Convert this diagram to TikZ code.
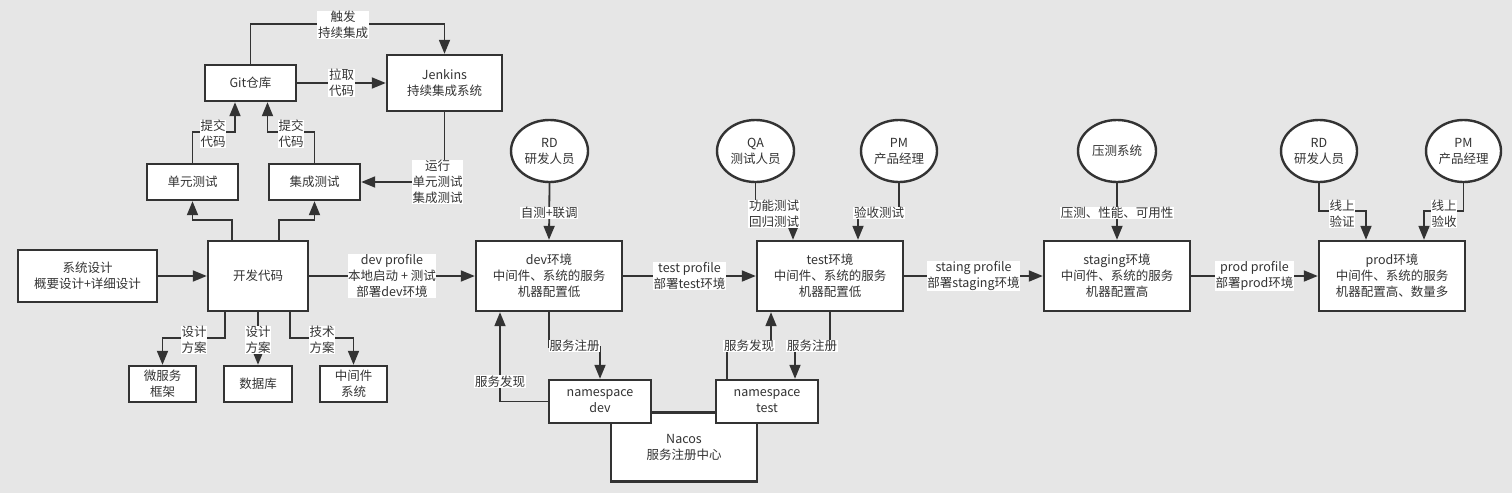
\documentclass[tikz,border=0pt]{standalone}
\usepackage{fontspec}
\setmainfont{Noto Sans CJK SC}
\usetikzlibrary{arrows.meta,shapes.geometric}
\definecolor{bg}{HTML}{E6E6E6}
\definecolor{ln}{HTML}{333333}
\begin{document}
\begin{tikzpicture}[x=1pt,y=-1pt,
  every node/.style={font=\fontsize{12.5}{16}\selectfont, text=ln},
  box/.style={draw=ln, fill=white, line width=2.4pt, align=center, inner sep=0pt},
  oval/.style={ellipse, draw=ln, fill=white, line width=2.4pt, align=center, inner sep=0pt, minimum height=62pt},
  lbl/.style={fill=white, inner sep=0.6pt, align=center},
  arr/.style={draw=ln, line width=1.8pt, -{Triangle[length=14pt,width=11pt]}},
  con/.style={draw=ln, line width=1.8pt}]
\fill[bg] (0,0) rectangle (1512,493);
\useasboundingbox (0,0) rectangle (1512,493);

% left part
\node[box, minimum width=91pt, minimum height=36pt] (git) at (250.5,83) {Git仓库};
\node[box, minimum width=115pt, minimum height=56pt] (jenkins) at (444.5,83) {Jenkins\\持续集成系统};
\node[box, minimum width=91pt, minimum height=36pt] (unit) at (192.5,182) {单元测试};
\node[box, minimum width=91pt, minimum height=36pt] (integ) at (314.5,182) {集成测试};
\node[box, minimum width=139pt, minimum height=52pt] (sys) at (87.5,276) {系统设计\\概要设计+详细设计};
\node[box, minimum width=100pt, minimum height=70pt] (dcode) at (258,276) {开发代码};
\node[box, minimum width=67pt, minimum height=36pt] (micro) at (162.5,384) {微服务\\框架};
\node[box, minimum width=68pt, minimum height=36pt] (db) at (258,384) {数据库};
\node[box, minimum width=67pt, minimum height=36pt] (mw) at (353.5,384) {中间件\\系统};

% environments
\node[oval, minimum width=77pt] (rd1) at (549.5,151) {RD\\研发人员};
\node[box, minimum width=146pt, minimum height=70pt] (devenv) at (549,276) {dev环境\\中间件、系统的服务\\机器配置低};
\node[oval, minimum width=77pt] (qa) at (755.5,151) {QA\\测试人员};
\node[oval, minimum width=76pt] (pm1) at (899,151) {PM\\产品经理};
\node[box, minimum width=146pt, minimum height=70pt] (testenv) at (830,276) {test环境\\中间件、系统的服务\\机器配置低};
\node[box, minimum width=146pt, minimum height=69pt] (nacos) at (684,447) {Nacos\\服务注册中心};
\node[box, minimum width=102pt, minimum height=43pt] (nsdev) at (600,401.5) {namespace\\dev};
\node[box, minimum width=102pt, minimum height=43pt] (nstest) at (767,401.5) {namespace\\test};
\node[oval, minimum width=78pt] (stress) at (1117,151) {压测系统};
\node[box, minimum width=146pt, minimum height=70pt] (staging) at (1117,276) {staging环境\\中间件、系统的服务\\机器配置高};
\node[oval, minimum width=76pt] (rd2) at (1319,151) {RD\\研发人员};
\node[oval, minimum width=75pt] (pm2) at (1463.5,151) {PM\\产品经理};
\node[box, minimum width=146pt, minimum height=70pt] (prod) at (1392,276) {prod环境\\中间件、系统的服务\\机器配置高、数量多};

% connectors left
\draw[arr] (git.north) |- (345,24) node[lbl] (l1) at (343,25) {触发\\持续集成} -| (jenkins.north);
\draw[arr] (git.east) -- node[lbl] (l2) {拉取\\代码} (jenkins.west);
\draw[arr] (jenkins.south) |- node[lbl, pos=0.5, xshift=-7pt] (l3) {运行\\单元测试\\集成测试} (integ.east);
\draw[arr] (unit.north) |- (213,132) -| ([xshift=-15.5pt]git.south);
\node[lbl] (l4) at (213,134) {提交\\代码};
\draw[arr] (integ.north) |- (291,132) -| ([xshift=17pt]git.south);
\node[lbl] (l5) at (291,134) {提交\\代码};
\draw[arr] ([xshift=-26pt]dcode.north) |- (210,220) -| (unit.south);
\draw[arr] ([xshift=21pt]dcode.north) |- (300,220) -| (integ.south);
\draw[arr] (sys.east) -- (dcode.west);
\draw[arr] (dcode.east) -- node[lbl] (l6) {dev profile\\本地启动 + 测试\\部署dev环境} (devenv.west);
\draw[arr] ([xshift=-33pt]dcode.south) |- (194,338) -| (micro.north);
\node[lbl] (l7) at (194,340) {设计\\方案};
\draw[arr] (dcode.south) -- node[lbl, pos=0.53] (l8) {设计\\方案} (db.north);
\draw[arr] ([xshift=32pt]dcode.south) |- (322,338) -| (mw.north);
\node[lbl] (l9) at (322,340) {技术\\方案};

% connectors environments
\draw[arr] (rd1.south) -- node[lbl, pos=0.525] (l10) {自测+联调} (devenv.north);
\draw[arr] (devenv.east) -- node[lbl] (l11) {test profile\\部署test环境} (testenv.west);
\draw[arr] (qa.south) |- (774,213) -| ([xshift=-37pt]testenv.north);
\node[lbl] (l12) at (774,214) {功能测试\\回归测试};
\draw[arr] (pm1.south) |- (879,213) -| ([xshift=28pt]testenv.north);
\node[lbl] (l13) at (879,213) {验收测试};
\draw[arr] (devenv.south) |- (574,347) -| (nsdev.north);
\node[lbl] (l14) at (574.5,346) {服务注册};
\draw[arr] (nsdev.west) -| node[lbl, pos=0.61] (l15) {服务发现} ([xshift=-49pt]devenv.south);
\draw[arr] ([xshift=-40pt]nstest.north) |- (748,347) -| ([xshift=-59pt]testenv.south);
\node[lbl] (l16) at (749,346) {服务发现};
\draw[arr] (testenv.south) |- (812,347) -| ([xshift=28pt]nstest.north);
\node[lbl] (l17) at (812,346) {服务注册};
\draw[arr] (testenv.east) -- node[lbl] (l18) {staing profile\\部署staging环境} (staging.west);
\draw[arr] (stress.south) -- node[lbl, pos=0.525] (l19) {压测、性能、可用性} (staging.north);
\draw[arr] (staging.east) -- node[lbl] (l20) {prod profile\\部署prod环境} (prod.west);
\draw[arr] (rd2.south) |- (1342,211) -| ([xshift=-26pt]prod.north);
\node[lbl] (l21) at (1342,214) {线上\\验证};
\draw[arr] (pm2.south) |- (1444,211) -| ([xshift=32pt]prod.north);
\node[lbl] (l22) at (1444,214) {线上\\验收};
\end{tikzpicture}
\end{document}
